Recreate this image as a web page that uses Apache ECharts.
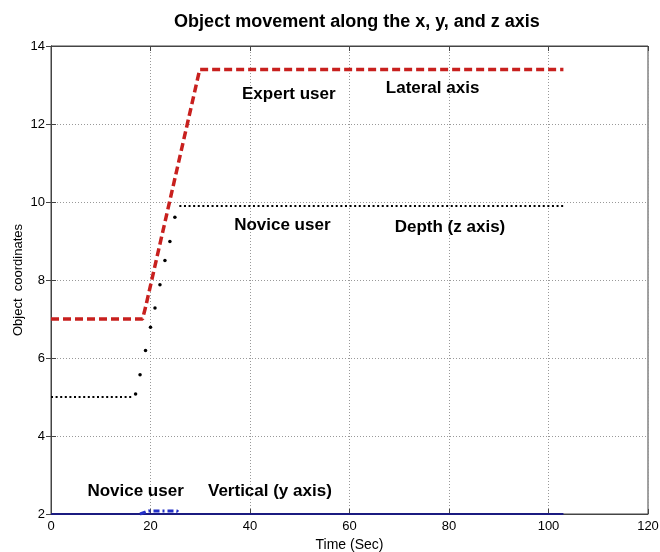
<!DOCTYPE html>
<html>
<head>
<meta charset="utf-8">
<script src="https://cdn.jsdelivr.net/npm/echarts@6/dist/echarts.min.js"></script>
<style>html,body{margin:0;padding:0;background:#fff;}#c{width:660px;height:552px;}</style>
</head>
<body>
<div id="c"></div>
<script>
// ---- data ----
var titleText = 'Object movement along the x, y, and z axis';
var xName = 'Time (Sec)';
var yName = 'Object  coordinates';
var xTicks = [0, 20, 40, 60, 80, 100, 120];
var yTicks = [2, 4, 6, 8, 10, 12, 14];

// Expert user, lateral axis (red dashed)
var expertX = [0, 18.4, 19.0, 29.9, 103];
var expertY = [7, 7, 7.3, 13.4, 13.4];

// Novice user, depth (black dotted flat parts)
var noviceFlatX = [0, 16.2, null, 25.8, 103];
var noviceFlatY = [5, 5, null, 9.9, 9.9];
// Novice user, depth transition samples (black dots)
var noviceRiseX = [17.0, 17.9, 19.0, 20.0, 20.9, 21.9, 22.9, 23.9, 24.9];
var noviceRiseY = [5.08, 5.57, 6.19, 6.79, 7.28, 7.88, 8.5, 8.99, 9.61];

// Vertical (y axis) – solid baseline and novice dash-dot bump
var verticalX = [0, 103];
var verticalY = [2, 2];
var bumpX = [17.9, 19.6, 25.3, 25.9];
var bumpY = [2, 2.08, 2.08, 2];

// annotation labels
var noteText = ['Expert user', 'Lateral axis', 'Novice user', 'Depth (z axis)', 'Novice user', 'Vertical (y axis)'];
var noteX = [47.8, 76.7, 46.5, 80.2, 17.0, 44.0];
var noteY = [12.76, 12.91, 9.40, 9.35, 2.57, 2.57];

function zip(xs, ys) {
  return xs.map(function (x, i) { return x === null ? [null, null] : [x, ys[i]]; });
}

var chart = echarts.init(document.getElementById('c'), null, {renderer: 'canvas'});
var FONT = 'Liberation Sans, Arial, sans-serif';
chart.setOption({
  animation: false,
  backgroundColor: '#fff',
  title: {
    text: titleText,
    left: 352, top: 8, textAlign: 'center',
    textStyle: {fontFamily: FONT, fontSize: 18, fontWeight: 'bold', color: '#000'}
  },
  grid: {left: 51, right: 12, top: 46, bottom: 38, containLabel: false, outerBoundsMode: 'none',
    show: true, borderColor: '#444', borderWidth: 1, backgroundColor: '#fff'},
  xAxis: [{
    type: 'value', min: 0, max: 120, interval: 20, position: 'bottom',
    name: xName, nameLocation: 'middle', nameGap: 24,
    nameTextStyle: {fontFamily: FONT, fontSize: 14, color: '#000'},
    axisLine: {show: true, lineStyle: {color: '#444', width: 1}},
    axisTick: {show: true, inside: true, length: 5, lineStyle: {color: '#444'}},
    axisLabel: {fontFamily: FONT, fontSize: 13, color: '#000', margin: 6,
      formatter: function (v) { return xTicks.indexOf(v) >= 0 ? String(v) : ''; }},
    splitLine: {show: true, lineStyle: {color: '#999', type: [1, 2], width: 1}}
  }, {
    type: 'value', min: 0, max: 120, interval: 20, position: 'top',
    axisLine: {show: true, lineStyle: {color: '#444', width: 1}},
    axisTick: {show: true, inside: true, length: 5, lineStyle: {color: '#444'}},
    axisLabel: {show: false}, splitLine: {show: false}
  }],
  yAxis: [{
    type: 'value', min: 2, max: 14, interval: 2, position: 'left',
    name: yName, nameLocation: 'middle', nameGap: 26, nameMoveOverlap: false,
    nameTextStyle: {fontFamily: FONT, fontSize: 13, color: '#000'},
    axisLine: {show: true, lineStyle: {color: '#444', width: 1}},
    axisTick: {show: true, inside: true, length: 5, lineStyle: {color: '#444'}},
    axisLabel: {fontFamily: FONT, fontSize: 13, color: '#000', margin: 6,
      formatter: function (v) { return yTicks.indexOf(v) >= 0 ? String(v) : ''; }},
    splitLine: {show: true, lineStyle: {color: '#999', type: [1, 2], width: 1}}
  }, {
    type: 'value', min: 2, max: 14, interval: 2, position: 'right',
    axisLine: {show: true, lineStyle: {color: '#444', width: 1}},
    axisTick: {show: true, inside: true, length: 5, lineStyle: {color: '#444'}},
    axisLabel: {show: false}, splitLine: {show: false}
  }],
  series: [
    {
      name: 'Vertical', type: 'line', data: zip(verticalX, verticalY), clip: false,
      showSymbol: false, lineStyle: {color: '#1b1b80', width: 2}
    },
    {
      name: 'Vertical novice', type: 'line', data: zip(bumpX, bumpY), clip: false,
      showSymbol: false, lineStyle: {color: '#2330c8', width: 3, type: [6, 3, 2, 3]}
    },
    {
      name: 'Depth flat', type: 'line', data: zip(noviceFlatX, noviceFlatY),
      showSymbol: false, connectNulls: false,
      lineStyle: {color: '#000', width: 2, type: [2, 2.6]}
    },
    {
      name: 'Depth rise', type: 'scatter', data: zip(noviceRiseX, noviceRiseY),
      symbol: 'circle', symbolSize: 3.5, itemStyle: {color: '#000', opacity: 1}
    },
    {
      name: 'Lateral', type: 'line', data: zip(expertX, expertY),
      showSymbol: false, lineStyle: {color: '#c8201e', width: 3.5, type: [8, 4]}
    },
    {
      name: 'Notes', type: 'scatter', symbolSize: 0, silent: true,
      itemStyle: {opacity: 1},
      data: noteText.map(function (t, i) { return {value: [noteX[i], noteY[i]], name: t}; }),
      label: {show: true, position: [0, 0], align: 'center', verticalAlign: 'middle', formatter: '{b}',
        fontFamily: FONT, fontSize: 17, fontWeight: 'bold', color: '#000', textBorderWidth: 0},
      labelLayout: {hideOverlap: false}
    }
  ]
});
</script>
</body>
</html>
